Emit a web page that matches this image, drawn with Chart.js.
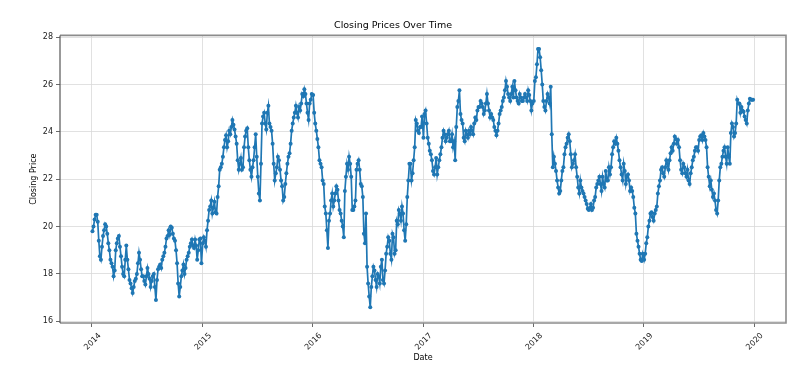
<!DOCTYPE html>
<html>
<head>
<meta charset="utf-8">
<title>Closing Prices Over Time</title>
<script src="https://cdn.jsdelivr.net/npm/chart.js@4.4.1/dist/chart.umd.min.js"></script>
<style>
    html, body { margin: 0; padding: 0; background: #ffffff; }
    #priceChart { display: block; }
</style>
</head>
<body>
<canvas id="priceChart" width="802" height="369"></canvas>
<script>
// Closing prices: a Monday and a Thursday close for every week
const years = [2014, 2015, 2016, 2017, 2018, 2019];

const mon2014 = [19.8, 20.3, 20.5, 19.4, 18.6, 19.6, 20.1, 19.7, 19.0, 18.45, 17.9, 19.0, 19.5, 19.15, 18.3, 17.9, 19.2, 18.2, 17.6, 17.2, 17.7, 18.0, 18.9, 18.2, 17.9, 17.55, 18.25, 17.8, 17.7, 18.0, 16.9, 18.2, 18.4, 18.6, 18.9, 19.5, 19.85, 20.0, 19.7, 19.4, 18.45, 17.05, 17.9, 18.4, 18.25, 18.75, 19.15, 19.45, 19.1, 19.2, 19.0, 19.5];
const thu2014 = [20.0, 20.5, 20.2, 18.75, 19.15, 19.85, 20.0, 19.3, 18.6, 18.3, 18.15, 19.3, 19.6, 18.75, 18.0, 18.6, 18.6, 17.75, 17.4, 17.45, 17.8, 18.45, 18.6, 17.9, 17.7, 17.9, 18.0, 17.45, 17.9, 17.45, 17.75, 18.3, 18.25, 18.75, 19.15, 19.6, 19.65, 19.95, 19.5, 19.0, 17.6, 17.45, 18.15, 18.0, 18.6, 18.9, 19.3, 19.2, 19.45, 18.6, 19.45, 18.45];

const mon2015 = [19.3, 19.4, 19.85, 20.7, 21.1, 20.8, 20.6, 21.25, 22.4, 22.65, 23.35, 23.85, 23.6, 23.9, 24.5, 24.1, 23.5, 22.4, 22.9, 22.5, 23.8, 24.15, 22.8, 22.1, 22.8, 23.9, 22.1, 21.1, 24.35, 24.8, 24.1, 25.1, 24.2, 23.5, 21.95, 22.5, 22.8, 21.95, 21.1, 21.8, 22.65, 23.1, 24.05, 24.6, 25.1, 24.6, 24.9, 25.6, 25.8, 25.2, 24.5, 25.35];
const thu2015 = [19.55, 19.15, 20.25, 20.85, 20.55, 21.05, 20.55, 21.7, 22.5, 22.95, 23.65, 23.35, 24.05, 24.2, 24.3, 23.8, 22.8, 22.65, 22.4, 23.35, 24.05, 23.35, 22.4, 22.5, 23.35, 22.95, 21.4, 22.65, 24.65, 24.35, 24.8, 24.35, 24.05, 22.65, 22.25, 22.95, 22.4, 21.7, 21.25, 22.25, 22.95, 23.5, 24.35, 24.8, 24.8, 25.05, 25.2, 25.5, 25.6, 24.8, 25.2, 25.6];

const mon2016 = [25.55, 24.35, 23.7, 22.8, 22.5, 21.8, 20.55, 19.1, 20.55, 21.4, 21.1, 21.7, 21.1, 20.55, 20.0, 21.5, 22.65, 22.95, 22.1, 20.7, 21.1, 22.65, 22.4, 21.7, 19.7, 20.55, 17.6, 16.6, 17.9, 18.15, 17.45, 17.9, 18.3, 17.75, 18.15, 19.15, 19.4, 18.6, 19.55, 19.0, 20.1, 20.55, 20.85, 19.85, 20.1, 21.95, 22.65, 22.25, 23.35, 24.35, 23.95, 24.2];
const thu2016 = [24.8, 24.05, 23.35, 22.65, 21.95, 20.85, 19.85, 20.25, 21.1, 20.85, 21.4, 21.55, 20.7, 20.25, 19.55, 22.1, 22.4, 22.65, 20.7, 20.85, 22.4, 22.8, 21.8, 21.25, 19.3, 18.3, 17.05, 17.45, 18.3, 17.75, 18.0, 17.6, 18.6, 17.6, 18.85, 19.55, 18.85, 19.7, 18.85, 20.25, 20.7, 20.25, 20.55, 19.4, 21.25, 22.65, 21.95, 22.8, 24.5, 24.05, 24.2, 24.65];

const mon2017 = [23.75, 24.9, 23.75, 23.2, 22.8, 22.2, 22.9, 22.5, 23.05, 23.75, 23.9, 23.75, 24.05, 23.6, 23.35, 22.8, 25.05, 25.75, 24.5, 23.75, 24.05, 23.75, 23.9, 24.05, 24.35, 24.5, 25.05, 25.3, 25.05, 24.9, 25.6, 24.9, 24.75, 24.5, 24.05, 24.05, 24.75, 25.05, 25.45, 26.15, 25.6, 25.3, 25.9, 26.15, 25.45, 25.2, 25.45, 25.3, 25.6, 25.3, 25.55, 24.9];
const thu2017 = [24.75, 24.35, 23.5, 23.05, 22.35, 22.5, 22.2, 22.8, 23.35, 24.05, 23.6, 23.9, 23.6, 23.9, 23.6, 24.2, 25.3, 24.75, 24.35, 23.6, 23.9, 24.05, 24.2, 23.9, 24.6, 24.9, 25.05, 25.2, 24.75, 25.2, 25.2, 24.6, 24.6, 24.2, 23.85, 24.35, 24.9, 25.3, 25.75, 25.9, 25.45, 25.6, 25.45, 25.75, 25.3, 25.6, 25.3, 25.45, 25.45, 25.75, 25.3, 25.2];

const mon2018 = [25.3, 26.3, 27.5, 27.15, 26.0, 25.05, 25.3, 25.45, 25.9, 22.5, 22.65, 21.95, 21.4, 21.95, 22.5, 23.35, 23.75, 23.6, 22.5, 22.8, 22.5, 21.65, 21.95, 21.5, 21.25, 20.95, 20.7, 20.95, 20.8, 21.25, 21.8, 22.1, 21.5, 21.8, 22.35, 21.95, 22.2, 23.05, 23.6, 23.75, 23.2, 22.5, 21.95, 22.35, 22.1, 21.95, 21.65, 21.25, 20.55, 19.4, 18.85, 18.55];
const thu2018 = [26.15, 26.85, 27.5, 26.6, 25.3, 24.9, 25.6, 25.2, 23.9, 22.95, 22.35, 21.65, 21.5, 22.35, 23.05, 23.5, 23.9, 23.05, 22.65, 23.05, 22.1, 21.4, 21.65, 21.4, 21.1, 20.75, 20.8, 20.7, 21.1, 21.65, 21.95, 21.8, 22.1, 21.65, 21.95, 22.5, 22.5, 23.35, 23.5, 23.5, 22.8, 22.2, 22.65, 21.8, 22.2, 21.5, 21.5, 20.8, 19.7, 19.15, 18.6, 18.85];

const mon2019 = [18.6, 19.3, 20.0, 20.55, 20.4, 20.55, 20.85, 21.7, 22.4, 22.25, 22.5, 22.65, 22.8, 23.35, 23.5, 23.7, 23.65, 22.8, 22.25, 22.5, 22.1, 21.95, 22.25, 22.8, 23.2, 23.35, 23.65, 23.85, 23.95, 23.65, 22.5, 21.7, 21.55, 21.4, 20.7, 21.1, 22.5, 22.95, 23.35, 22.65, 22.95, 23.95, 24.2, 23.95, 25.35, 25.2, 25.05, 24.85, 24.5, 24.9, 25.4, 25.35];
const thu2019 = [18.85, 19.55, 20.25, 20.6, 20.25, 20.7, 21.4, 21.95, 22.5, 22.1, 22.8, 22.4, 23.1, 23.2, 23.8, 23.5, 23.35, 22.4, 22.65, 22.25, 22.4, 21.8, 22.5, 22.95, 23.35, 23.2, 23.8, 23.65, 23.8, 23.35, 22.1, 21.95, 21.25, 21.1, 20.55, 21.95, 22.65, 23.2, 22.95, 23.35, 22.65, 24.35, 23.8, 24.35, 25.2, 24.8, 24.9, 24.65, 24.35, 25.2, 25.35, 25.35];

// Axis tick labels
const yearTicks = [2014, 2015, 2016, 2017, 2018, 2019, 2020];
const priceTicks = [16, 18, 20, 22, 24, 26, 28];

// Build {x, y} points; x is the trading day as a fractional year
const monByYear = [mon2014, mon2015, mon2016, mon2017, mon2018, mon2019];
const thuByYear = [thu2014, thu2015, thu2016, thu2017, thu2018, thu2019];
const points = [];
years.forEach((year, k) => {
    monByYear[k].forEach((price, i) => {
        points.push({ x: year + (1.5 + 7 * i) / 365, y: price });
        points.push({ x: year + (5 + 7 * i) / 365, y: thuByYear[k][i] });
    });
});

// Matplotlib-style frame around the plot area
const framePlugin = {
    id: 'frame',
    afterDraw(chart) {
        const { ctx, chartArea: a } = chart;
        ctx.save();
        ctx.strokeStyle = '#8c8c8c';
        ctx.lineWidth = 1.6;
        ctx.beginPath();
        ctx.moveTo(a.left, a.top);
        ctx.lineTo(a.right, a.top);
        ctx.lineTo(a.right, a.bottom);
        ctx.lineTo(a.left, a.bottom);
        ctx.stroke();
        ctx.strokeStyle = '#555555';
        ctx.lineWidth = 1.2;
        ctx.beginPath();
        ctx.moveTo(a.left, a.top);
        ctx.lineTo(a.left, a.bottom);
        ctx.stroke();
        ctx.restore();
    }
};

const tickFont = { family: 'DejaVu Sans', size: 8 };
const gridColor = '#d9d9d9';

new Chart(document.getElementById('priceChart'), {
    type: 'line',
    data: {
        datasets: [{
            label: 'Close',
            data: points,
            borderColor: '#1f77b4',
            backgroundColor: '#1f77b4',
            borderWidth: 1.7,
            pointRadius: 2,
            pointBorderWidth: 0,
            pointHoverRadius: 2,
            tension: 0
        }]
    },
    options: {
        responsive: false,
        animation: false,
        layout: { padding: { left: 0, right: 16, top: 0, bottom: 0 } },
        plugins: {
            legend: { display: false },
            tooltip: { enabled: false },
            title: {
                display: true,
                text: 'Closing Prices Over Time',
                color: '#000000',
                font: { family: 'DejaVu Sans', size: 9.5, weight: 'normal' },
                padding: { top: 20, bottom: 4 }
            }
        },
        scales: {
            x: {
                type: 'linear',
                min: 2013.71,
                max: 2020.29,
                afterBuildTicks: scale => {
                    scale.ticks = yearTicks.map(v => ({ value: v }));
                },
                afterFit: scale => { scale.height = 46; },
                ticks: {
                    color: '#222222',
                    font: tickFont,
                    minRotation: 45,
                    maxRotation: 45,
                    labelOffset: 8,
                    padding: 4,
                    callback: v => String(v)
                },
                grid: { color: gridColor, tickColor: '#444444', tickLength: 4, lineWidth: 0.8 },
                border: { display: false },
                title: {
                    display: true,
                    text: 'Date',
                    color: '#000000',
                    font: { family: 'DejaVu Sans', size: 8 },
                    padding: { top: 0, bottom: 6 }
                }
            },
            y: {
                min: 15.93,
                max: 28.07,
                afterBuildTicks: scale => {
                    scale.ticks = priceTicks.map(v => ({ value: v }));
                },
                afterFit: scale => { scale.width = 60; },
                ticks: {
                    color: '#222222',
                    font: tickFont,
                    padding: 3
                },
                grid: { color: gridColor, tickColor: '#444444', tickLength: 4, lineWidth: 0.8 },
                border: { display: false },
                title: {
                    display: true,
                    text: 'Closing Price',
                    color: '#000000',
                    font: { family: 'DejaVu Sans', size: 8 },
                    padding: { top: 29, bottom: 0 }
                }
            }
        }
    },
    plugins: [framePlugin]
});
</script>
</body>
</html>
